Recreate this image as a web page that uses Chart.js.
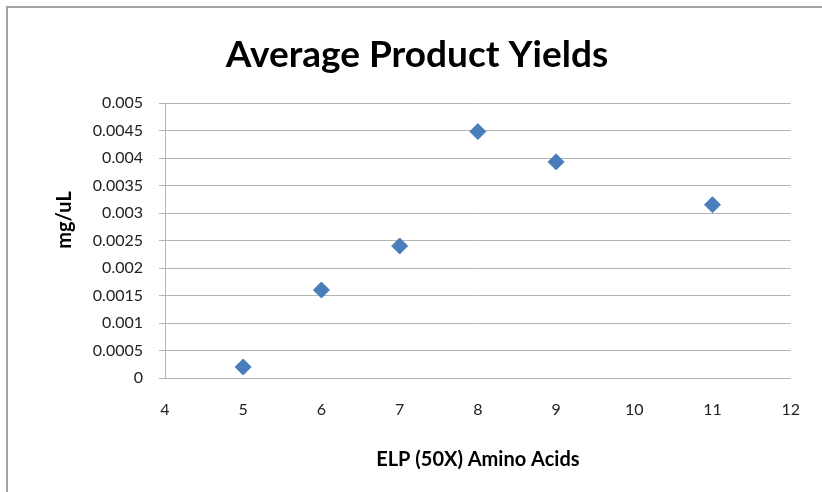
<!DOCTYPE html>
<html>
<head>
<meta charset="utf-8">
<script src="https://cdn.jsdelivr.net/npm/chart.js@4/dist/chart.umd.min.js"></script>
<style>
  html, body { margin: 0; padding: 0; background: #fff; overflow: hidden; }
  #wrap { position: relative; width: 822px; height: 492px; }
  #frame {
    position: absolute; left: 6px; top: 6px; width: 830px; height: 500px;
    border-left: 2px solid #a3a3a3; border-top: 2px solid #a3a3a3;
    pointer-events: none;
  }
</style>
</head>
<body>
<div id="wrap">
  <canvas id="chart" width="822" height="492"></canvas>
  <div id="frame"></div>
</div>
<script>
const xValues = [5, 6, 7, 8, 9, 11];
const yValues = [0.0002, 0.0016, 0.0024, 0.00448, 0.00393, 0.00315];
const yTickLabels = ["0", "0.0005", "0.001", "0.0015", "0.002", "0.0025", "0.003", "0.0035", "0.004", "0.0045", "0.005"];
const xTickLabels = ["4", "5", "6", "7", "8", "9", "10", "11", "12"];

const fontFamily = "Lato, 'Open Sans', sans-serif";
const gridColor = "#b4b4b4";

// chart title is centred on the whole frame and the y title sits above the
// plot centre, so both are drawn by hand
const labels = {
  id: "labels",
  afterDraw(chart) {
    const ctx = chart.ctx;
    ctx.save();
    ctx.fillStyle = "#000";
    ctx.textAlign = "center";
    ctx.textBaseline = "middle";
    ctx.font = "bold 37px " + fontFamily;
    ctx.fillText("Average Product Yields", 417, 55);
    ctx.translate(65, 220);
    ctx.rotate(-Math.PI / 2);
    ctx.font = "bold 20px " + fontFamily;
    ctx.fillText("mg/uL", 0, 0);
    ctx.restore();
  }
};

new Chart(document.getElementById("chart").getContext("2d"), {
  type: "scatter",
  data: {
    datasets: [
      {
        data: xValues.map((x, i) => ({ x: x, y: yValues[i] })),
        pointStyle: "rectRot",
        pointRadius: 8,
        pointHoverRadius: 8,
        backgroundColor: "#4a7ebb",
        borderColor: "#4a7ebb",
        borderWidth: 1
      }
    ]
  },
  options: {
    responsive: false,
    animation: false,
    layout: { padding: { left: 0, right: 29, top: 103, bottom: 0 } },
    plugins: {
      legend: { display: false },
      tooltip: { enabled: false },
      title: { display: false }
    },
    scales: {
      x: {
        type: "linear",
        min: 4,
        max: 12,
        afterBuildTicks: (scale) => {
          scale.ticks = xTickLabels.map((t) => ({ value: Number(t) }));
        },
        afterFit: (scale) => { scale.height = 114; },
        ticks: {
          color: "#222",
          padding: 22,
          font: { family: fontFamily, size: 16 },
          callback: (v, i) => xTickLabels[i]
        },
        grid: { display: false, drawTicks: false },
        border: { display: true, color: gridColor, width: 1 },
        title: {
          display: true,
          text: "ELP (50X) Amino Acids",
          color: "#000",
          font: { family: fontFamily, size: 20, weight: "bold" },
          padding: { top: 0, bottom: 20 }
        }
      },
      y: {
        min: 0,
        max: 0.005,
        afterBuildTicks: (scale) => {
          scale.ticks = yTickLabels.map((t) => ({ value: Number(t) }));
        },
        afterFit: (scale) => { scale.width = 165; },
        ticks: {
          color: "#222",
          padding: 16,
          font: { family: fontFamily, size: 16 },
          callback: (v, i) => yTickLabels[i]
        },
        grid: { color: gridColor, lineWidth: 1, tickLength: 6 },
        border: { display: true, color: gridColor, width: 1 }
      }
    }
  },
  plugins: [labels]
});
</script>
</body>
</html>
